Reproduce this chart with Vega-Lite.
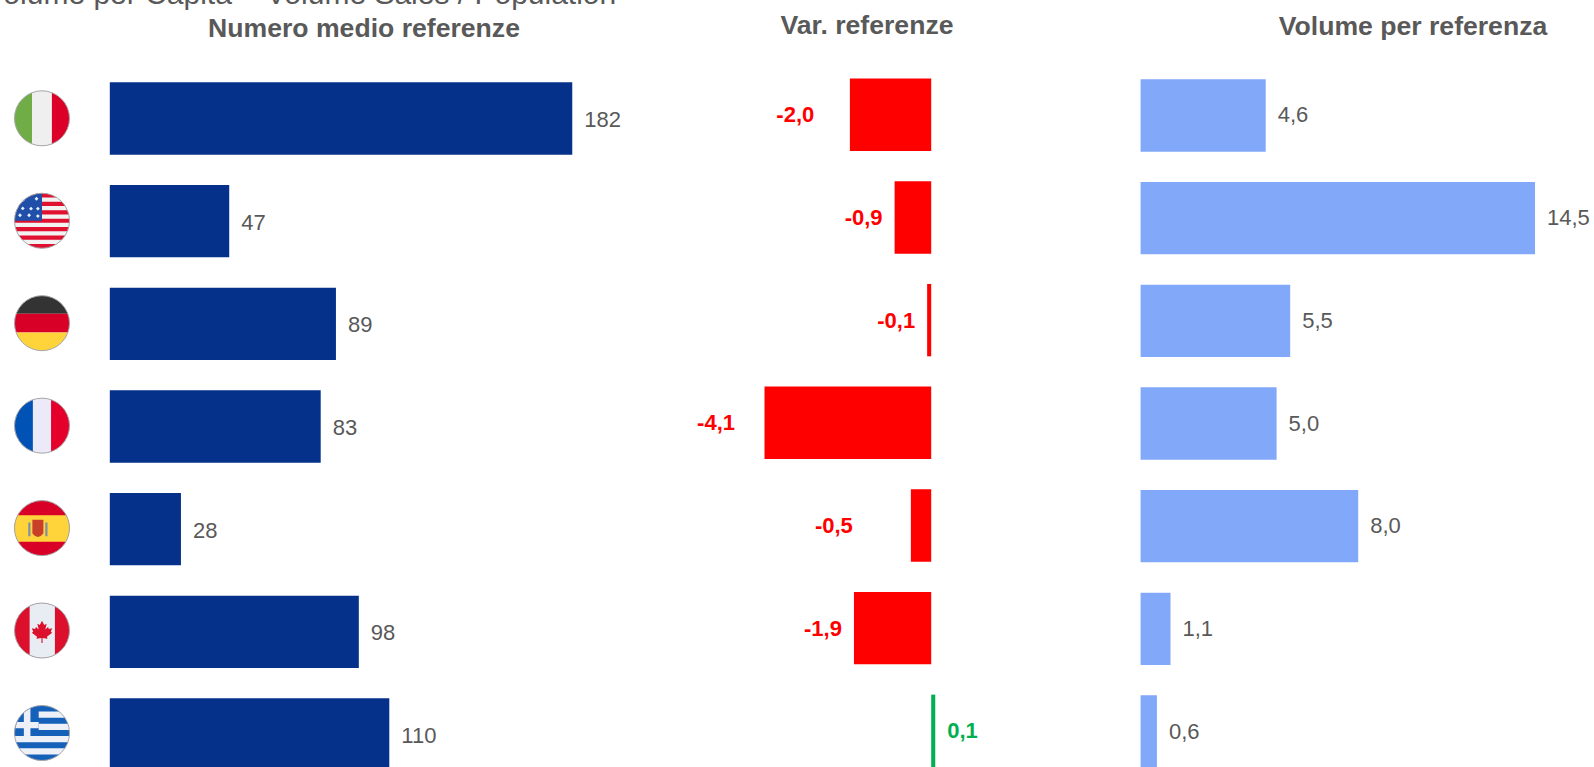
{
"$schema":"https://vega.github.io/schema/vega-lite/v6.json",
"padding":{"left":-15,"top":-20,"right":0,"bottom":0},
"background":"white",
"spacing":0,
"bounds":"flush",
"title":{"text":"Volume per Capita = Volume Sales / Population","anchor":"start","frame":"group","fontSize":30,"font":"Liberation Sans","fontWeight":"normal","color":"#595959","dx":-15,"offset":3},
"config":{"view":{"stroke":null},"locale":{"number":{"decimal":",","thousands":".","grouping":[3],"currency":["","€"],"minus":"-"}},"text":{"font":"Liberation Sans","fontSize":22},"title":{"font":"Liberation Sans"}},
"datasets":{
"paesi":[
{"paese":"Italia","referenze":182,"var_referenze":-2.0,"volume":4.6},
{"paese":"USA","referenze":47,"var_referenze":-0.9,"volume":14.5},
{"paese":"Germania","referenze":89,"var_referenze":-0.1,"volume":5.5},
{"paese":"Francia","referenze":83,"var_referenze":-4.1,"volume":5.0},
{"paese":"Spagna","referenze":28,"var_referenze":-0.5,"volume":8.0},
{"paese":"Canada","referenze":98,"var_referenze":-1.9,"volume":1.1},
{"paese":"Grecia","referenze":110,"var_referenze":0.1,"volume":0.6}],
"bandiere":[
{"paese":"Italia","parte":"it-verde"},{"paese":"Italia","parte":"it-bianco"},{"paese":"Italia","parte":"it-rosso"},
{"paese":"USA","parte":"us-base"},{"paese":"USA","parte":"us-strisce"},{"paese":"USA","parte":"us-cantone"},{"paese":"USA","parte":"us-stelle"},
{"paese":"Germania","parte":"de-nero"},{"paese":"Germania","parte":"de-rosso"},{"paese":"Germania","parte":"de-giallo"},
{"paese":"Francia","parte":"fr-blu"},{"paese":"Francia","parte":"fr-bianco"},{"paese":"Francia","parte":"fr-rosso"},
{"paese":"Spagna","parte":"es-base"},{"paese":"Spagna","parte":"es-giallo"},{"paese":"Spagna","parte":"es-stemma"},{"paese":"Spagna","parte":"es-colonne"},
{"paese":"Canada","parte":"ca-base"},{"paese":"Canada","parte":"ca-bianco"},{"paese":"Canada","parte":"ca-foglia"},
{"paese":"Grecia","parte":"gr-base"},{"paese":"Grecia","parte":"gr-strisce"},{"paese":"Grecia","parte":"gr-cantone"},{"paese":"Grecia","parte":"gr-croce"}]
},
"hconcat":[
{"width":84,"height":722,
 "layer":[
 {"data":{"name":"bandiere"},
  "mark":{"type":"point","filled":true,"opacity":1,"strokeWidth":0,"size":3025},
  "encoding":{
   "y":{"field":"paese","type":"nominal","axis":null,"scale":{"type":"point","domain":["Italia","USA","Germania","Francia","Spagna","Canada","Grecia"],"range":[73.3,688],"padding":0}},
   "shape":{"field":"parte","type":"nominal","legend":null,"scale":{
    "domain":["it-verde","it-bianco","it-rosso","us-base","us-strisce","us-cantone","us-stelle","de-nero","de-rosso","de-giallo","fr-blu","fr-bianco","fr-rosso","es-base","es-giallo","es-stemma","es-colonne","ca-base","ca-bianco","ca-foglia","gr-base","gr-strisce","gr-cantone","gr-croce"],
    "range":[
    "M-1 0A1 1 0 0 1 -.36 -.933L-.36 .933A1 1 0 0 1 -1 0Z",
    "M-.36 -.933A1 1 0 0 1 .36 -.933L.36 .933A1 1 0 0 1 -.36 .933Z",
    "M.36 -.933A1 1 0 0 1 1 0A1 1 0 0 1 .36 .933Z",
    "circle",
    "M0 -1A1 1 0 0 1 .533 -.846L-.533 -.846A1 1 0 0 1 0 -1Z M-.722 -.692L.722 -.692A1 1 0 0 1 .843 -.538L-.843 -.538A1 1 0 0 1 -.722 -.692Z M-.923 -.385L.923 -.385A1 1 0 0 1 .973 -.231L-.973 -.231A1 1 0 0 1 -.923 -.385Z M-.997 -.077L.997 -.077L.997 .077L-.997 .077Z M-.973 .231L.973 .231A1 1 0 0 1 .923 .385L-.923 .385A1 1 0 0 1 -.973 .231Z M-.843 .538L.843 .538A1 1 0 0 1 .722 .692L-.722 .692A1 1 0 0 1 -.843 .538Z M-.533 .846L.533 .846A1 1 0 0 1 0 1A1 1 0 0 1 -.533 .846Z",
    "M0 0L-1 0A1 1 0 0 1 0 -1Z",
    "M-.2 -.87L-.13 -.8L-.2 -.73L-.27 -.8Z M-.7 -.82L-.63 -.75L-.7 -.68L-.77 -.75Z M-.15 -.51L-.08 -.44L-.15 -.37L-.22 -.44Z M-.4 -.51L-.33 -.44L-.4 -.37L-.47 -.44Z M-.7 -.52L-.63 -.45L-.7 -.38L-.77 -.45Z M-.8 -.27L-.73 -.2L-.8 -.13L-.87 -.2Z M-.47 -.27L-.4 -.2L-.47 -.13L-.54 -.2Z M-.15 -.24L-.08 -.17L-.15 -.1L-.22 -.17Z",
    "M0 -1A1 1 0 0 1 .94 -.34L-.94 -.34A1 1 0 0 1 0 -1Z",
    "M-.94 -.34L.94 -.34A1 1 0 0 1 .94 .34L-.94 .34A1 1 0 0 1 -.94 -.34Z",
    "M-.94 .34L.94 .34A1 1 0 0 1 0 1A1 1 0 0 1 -.94 .34Z",
    "M-1 0A1 1 0 0 1 -.33 -.944L-.33 .944A1 1 0 0 1 -1 0Z",
    "M-.33 -.944A1 1 0 0 1 .33 -.944L.33 .944A1 1 0 0 1 -.33 .944Z",
    "M.33 -.944A1 1 0 0 1 1 0A1 1 0 0 1 .33 .944Z",
    "circle",
    "M-.883 -.47L.883 -.47A1 1 0 0 1 .866 .5L-.866 .5A1 1 0 0 1 -.883 -.47Z",
    "M-.35 -.3L.05 -.3L.05 .2Q-.15 .45 -.35 .2Z",
    "M-.5 -.2L-.42 -.2L-.42 .3L-.5 .3Z M.12 -.2L.2 -.2L.2 .3L.12 .3Z",
    "circle",
    "M-.45 -.893A1 1 0 0 1 .47 -.883L.47 .883A1 1 0 0 1 -.45 .893Z",
    "M0 -.36L.08 -.2L.17 -.25L.12 -.04L.22 -.13L.25 -.06L.37 -.08L.32 .04L.37 .08L.18 .23L.2 .3L.02 .27L.02 .45L-.02 .45L-.02 .27L-.2 .3L-.18 .23L-.37 .08L-.32 .04L-.37 -.08L-.25 -.06L-.22 -.13L-.12 -.04L-.17 -.25L-.08 -.2Z",
    "circle",
    "M0 -1A1 1 0 0 1 .628 -.778L-.628 -.778A1 1 0 0 1 0 -1Z M-.831 -.556L.831 -.556A1 1 0 0 1 .943 -.333L-.943 -.333A1 1 0 0 1 -.831 -.556Z M-.994 -.111L.994 -.111A1 1 0 0 1 .994 .111L-.994 .111A1 1 0 0 1 -.994 -.111Z M-.943 .333L.943 .333A1 1 0 0 1 .831 .556L-.831 .556A1 1 0 0 1 -.943 .333Z M-.628 .778L.628 .778A1 1 0 0 1 0 1A1 1 0 0 1 -.628 .778Z",
    "M-.12 .111L-.994 .111A1 1 0 0 1 -.12 -.993Z",
    "M-.66 -.751L-.42 -.907L-.42 .111L-.66 .111Z M-.917 -.4L-.12 -.4L-.12 -.17L-.972 -.17Z"
    ]}},
   "color":{"field":"parte","type":"nominal","legend":null,"scale":{
    "domain":["it-verde","it-bianco","it-rosso","us-base","us-strisce","us-cantone","us-stelle","de-nero","de-rosso","de-giallo","fr-blu","fr-bianco","fr-rosso","es-base","es-giallo","es-stemma","es-colonne","ca-base","ca-bianco","ca-foglia","gr-base","gr-strisce","gr-cantone","gr-croce"],
    "range":["#70AD47","#EFEFEF","#DC0028","#F2F2F2","#E01030","#1F4FA8","#E8EEF8","#333333","#D80027","#FFD43B","#0052B4","#ECE9F8","#E4002B","#D80027","#FFD43B","#C8402A","#7F8FA8","#DC0F2D","#E8EDF3","#DC0F2D","#EEF0F8","#1560B8","#1560B8","#EEF0F8"]}}
  }},
 {"data":{"name":"paesi"},
  "mark":{"type":"point","filled":false,"opacity":1,"stroke":"#A6A6A6","strokeWidth":1,"size":3025,"shape":"circle"},
  "encoding":{"y":{"field":"paese","type":"nominal","axis":null,"scale":{"type":"point","domain":["Italia","USA","Germania","Francia","Spagna","Canada","Grecia"],"range":[73.3,688],"padding":0}}}}
 ],
 "resolve":{"scale":{"color":"independent","shape":"independent"}}
},
{"width":556,"height":722,
 "title":{"text":"Numero medio referenze","frame":"group","anchor":"middle","dx":2,"fontSize":26.6,"fontWeight":"bold","color":"#595959","offset":2.4},
 "data":{"name":"paesi"},
 "encoding":{
  "y":{"field":"paese","type":"nominal","axis":null,"sort":null,"scale":{"domain":["Italia","USA","Germania","Francia","Spagna","Canada","Grecia"],"range":[37.3,725.7],"paddingInner":0.295,"paddingOuter":0,"round":false}},
  "x":{"field":"referenze","type":"quantitative","axis":null,"scale":{"domain":[0,200],"range":[25.8,534],"nice":false}}},
 "layer":[
  {"mark":{"type":"bar","color":"#05318A"}},
  {"mark":{"type":"text","align":"left","baseline":"middle","dx":12,"dy":1.5,"color":"#595959"},
   "encoding":{"text":{"field":"referenze","type":"quantitative","format":"d"}}}
 ]
},
{"width":470,"height":722,
 "title":{"text":"Var. referenze","frame":"group","anchor":"middle","dx":-8,"fontSize":26.6,"fontWeight":"bold","color":"#595959","offset":5.3},
 "data":{"name":"paesi"},
 "encoding":{
  "y":{"field":"paese","type":"nominal","axis":null,"sort":null,"scale":{"domain":["Italia","USA","Germania","Francia","Spagna","Canada","Grecia"],"range":[33.6,722],"paddingInner":0.295,"paddingOuter":0,"round":false}},
  "x":{"field":"var_referenze","type":"quantitative","axis":null,"scale":{"domain":[-4,1],"range":[128.56,331.86],"nice":false,"zero":false}},
  "color":{"condition":{"test":"datum.var_referenze<0","value":"#FF0000"},"value":"#00B050"},
  "text":{"field":"var_referenze","type":"quantitative","format":".1f"}},
 "layer":[
  {"mark":{"type":"bar"},"encoding":{"text":null}},
  {"transform":[{"filter":"datum.var_referenze>=0"}],
   "mark":{"type":"text","align":"left","baseline":"middle","dx":12,"dy":0.5,"fontWeight":"bold"}},
  {"transform":[{"filter":"datum.paese==='USA'||datum.paese==='Germania'||datum.paese==='Canada'"}],
   "mark":{"type":"text","align":"right","baseline":"middle","dx":-12,"dy":0.5,"fontWeight":"bold"}},
  {"transform":[{"filter":"datum.paese==='Italia'"}],
   "mark":{"type":"text","align":"right","baseline":"middle","dx":-35.6,"dy":0.5,"fontWeight":"bold"}},
  {"transform":[{"filter":"datum.paese==='Francia'"}],
   "mark":{"type":"text","align":"right","baseline":"middle","dx":-29.5,"dy":0.5,"fontWeight":"bold"}},
  {"transform":[{"filter":"datum.paese==='Spagna'"}],
   "mark":{"type":"text","align":"right","baseline":"middle","dx":-58,"dy":0.5,"fontWeight":"bold"}}
 ]
},
{"width":484,"height":722,
 "title":{"text":"Volume per referenza","frame":"group","anchor":"middle","dx":61,"fontSize":26.6,"fontWeight":"bold","color":"#595959","offset":4.3},
 "data":{"name":"paesi"},
 "encoding":{
  "y":{"field":"paese","type":"nominal","axis":null,"sort":null,"scale":{"domain":["Italia","USA","Germania","Francia","Spagna","Canada","Grecia"],"range":[34.3,722.7],"paddingInner":0.295,"paddingOuter":0,"round":false}},
  "x":{"field":"volume","type":"quantitative","axis":null,"scale":{"domain":[0,16],"range":[30.6,465.8],"nice":false}}},
 "layer":[
  {"mark":{"type":"bar","color":"#82A8FA"}},
  {"mark":{"type":"text","align":"left","baseline":"middle","dx":12,"color":"#595959"},
   "encoding":{"text":{"field":"volume","type":"quantitative","format":".1f"}}}
 ]
}
]
}
